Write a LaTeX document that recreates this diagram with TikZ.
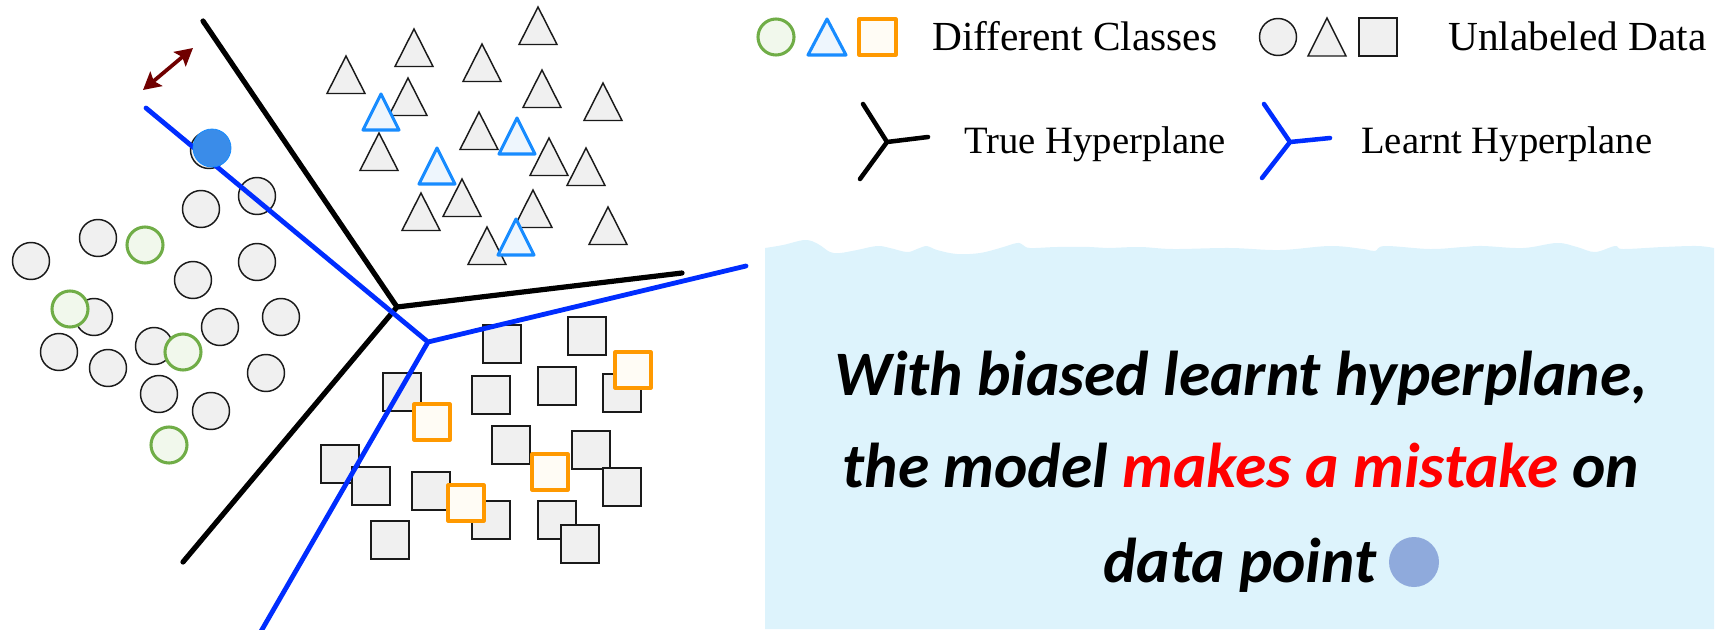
\documentclass[tikz,border=0pt]{standalone}
\usepackage{fontspec}
\setmainfont{Liberation Serif}
\newfontfamily\calib{Carlito}
\usetikzlibrary{arrows.meta}

\definecolor{grayline}{RGB}{26,26,26}
\definecolor{grayfill}{RGB}{240,240,240}
\definecolor{grn}{RGB}{112,173,71}
\definecolor{grnfill}{RGB}{241,248,236}
\definecolor{tblue}{RGB}{24,140,255}
\definecolor{tbluefill}{RGB}{238,246,253}
\definecolor{orng}{RGB}{255,153,0}
\definecolor{orngfill}{RGB}{255,252,245}
\definecolor{hpblue}{RGB}{0,45,255}
\definecolor{arrred}{RGB}{112,0,0}
\definecolor{ptblue}{RGB}{58,140,233}
\definecolor{seablue}{RGB}{221,243,252}
\definecolor{dotblue}{RGB}{143,170,220}

\begin{document}
\begin{tikzpicture}[x=0.75pt,y=0.75pt,yscale=-1,xscale=1,
  unlab/.style={draw=grayline, fill=grayfill, line width=1.1pt},
  clsc/.style={draw=grn, fill=grnfill, line width=2.3pt},
  clst/.style={draw=tblue, fill=tbluefill, line width=2.3pt, line join=round},
  clss/.style={draw=orng, fill=orngfill, line width=2.3pt, line join=round},
  truehp/.style={draw=black, line width=3.9pt, line cap=round, line join=round},
  learnthp/.style={draw=hpblue, line width=3.6pt, line cap=round, line join=round},
  leghp/.style={line width=3.4pt, line cap=round, line join=round},
  legtxt/.style={anchor=base west, inner sep=0pt},
  msgtxt/.style={inner sep=0pt, font=\calib\bfseries\itshape\fontsize{47.5}{54}\selectfont}]
\useasboundingbox (0,0) rectangle (1723,629);

%Shape: wavy background of the message
\fill[seablue] (765,629) -- plot[smooth, tension=0.6] coordinates {(765,248) (783,245) (805,240) (818,244) (830,252) (840,253) (857,250) (877,246) (890,248) (907,252) (917,249) (927,246) (937,250) (957,254) (980,253) (1000,248) (1017,243) (1023,245) (1030,248) (1057,247) (1090,247) (1107,248) (1140,247) (1173,249) (1230,248) (1280,250) (1330,246) (1363,249) (1375,251) (1385,246) (1430,249) (1463,247) (1483,246) (1523,248) (1557,243) (1577,247) (1595,252) (1615,246) (1623,249) (1663,247) (1697,246) (1714,248)} -- (1714,629) -- cycle;

%Shape: circles
\foreach \x/\y in {257/196, 201/209, 98/238, 31/261, 193/280, 257/262, 94/317, 220/327, 281/317, 59/352, 108/368, 154/346, 266/373, 159/394, 211/411, 209/150}
  \draw[unlab] (\x,\y) circle[radius=18.5];
\foreach \x/\y in {145/245, 70/309, 183/352, 169/445}
  \draw[clsc] (\x,\y) circle[radius=18];

%Shape: triangles (apex given)
\foreach \x/\y in {538/7, 414/29, 346/56, 482/44, 408/78, 542/70, 603/83, 379/133, 479/112, 549/138, 586/148, 462/179, 421/193, 533/190, 608/207, 487/227}
  \draw[unlab] (\x,\y) -- ++(19,37.5) -- ++(-38,0) -- cycle;
\foreach \x/\y in {381/94, 517/118, 437/148, 516/219}
  \draw[clst] (\x,\y) -- ++(18,36) -- ++(-36,0) -- cycle;

%Shape: squares (centre given)
\foreach \x/\y in {502/344, 587/336, 622/393, 402/392, 491/395, 557/386, 511/445, 591/450, 622/487, 340/464, 371/486, 431/491, 491/520, 557/520, 580/544, 390/540}
  \draw[unlab] (\x-19,\y-19) rectangle ++(38,38);
\foreach \x/\y in {633/370, 432/422, 550/472, 466/503}
  \draw[clss] (\x-18,\y-18) rectangle ++(36,36);

%Straight Lines: true hyperplane
\coordinate (tc) at (397,307);
\coordinate (tn) at (203,21);
\coordinate (te) at (682,273);
\coordinate (ts) at (183,562);
\draw[truehp] (tn) -- (tc) -- (ts) (tc) -- (te);

%Straight Lines: learnt hyperplane
\coordinate (lc) at (428,342);
\coordinate (ln) at (146,108);
\coordinate (le) at (746,266);
\coordinate (ls) at (256,640);
\draw[learnthp] (ln) -- (lc) -- (ls) (lc) -- (le);

%Shape: misclassified point
\draw[draw=tblue, fill=ptblue, line width=0.6pt] (212,148) circle[radius=19];

%Straight Lines: shift arrow
\coordinate (arrA) at (143,90);
\coordinate (arrB) at (193,48);
\draw[arrred, line width=2.8pt, {Stealth[length=13pt,width=14pt,inset=2.5pt]}-{Stealth[length=13pt,width=14pt,inset=2.5pt]}] (arrA) -- (arrB);

%Legend
\draw[clsc] (776,37) circle[radius=18];
\draw[clst] (827,19) -- (846,55) -- (808,55) -- cycle;
\draw[clss] (859,19) rectangle (896,55);
\node[legtxt, font=\fontsize{31}{36}\selectfont] (lgcls) at (932,50) {Different Classes};
\draw[unlab] (1278,37) circle[radius=18.5];
\draw[unlab] (1327,18) -- (1346,56) -- (1308,56) -- cycle;
\draw[unlab] (1359,18) rectangle (1397,56);
\node[legtxt, font=\fontsize{31}{36}\selectfont] (lgunl) at (1448,50) {Unlabeled Data};

\coordinate (ytc) at (887,142);
\coordinate (ytn) at (863,104);
\coordinate (yte) at (928,137);
\coordinate (yts) at (860,179);
\draw[leghp] (ytn) -- (ytc) -- (yts) (ytc) -- (yte);
\node[legtxt, font=\fontsize{29}{34}\selectfont] (lgtrue) at (964,153) {True Hyperplane};

\coordinate (ylc) at (1290,142);
\coordinate (yln) at (1264,104);
\coordinate (yle) at (1330,138);
\coordinate (yls) at (1262,178);
\draw[leghp, hpblue] (yln) -- (ylc) -- (yls) (ylc) -- (yle);
\node[legtxt, font=\fontsize{29}{34}\selectfont] (lglearnt) at (1361,153) {Learnt Hyperplane};

% Text Node
\node[msgtxt, anchor=base] (msga) at (1241,395) {With biased learnt hyperplane,};
\node[msgtxt, anchor=base] (msgb) at (1241,487) {the model \textcolor{red}{makes a mistake} on};
\node[msgtxt, anchor=base west] (msgc) at (1103,582) {data point};
\fill[dotblue] (1414,562) circle[radius=25];
\end{tikzpicture}
\end{document}
